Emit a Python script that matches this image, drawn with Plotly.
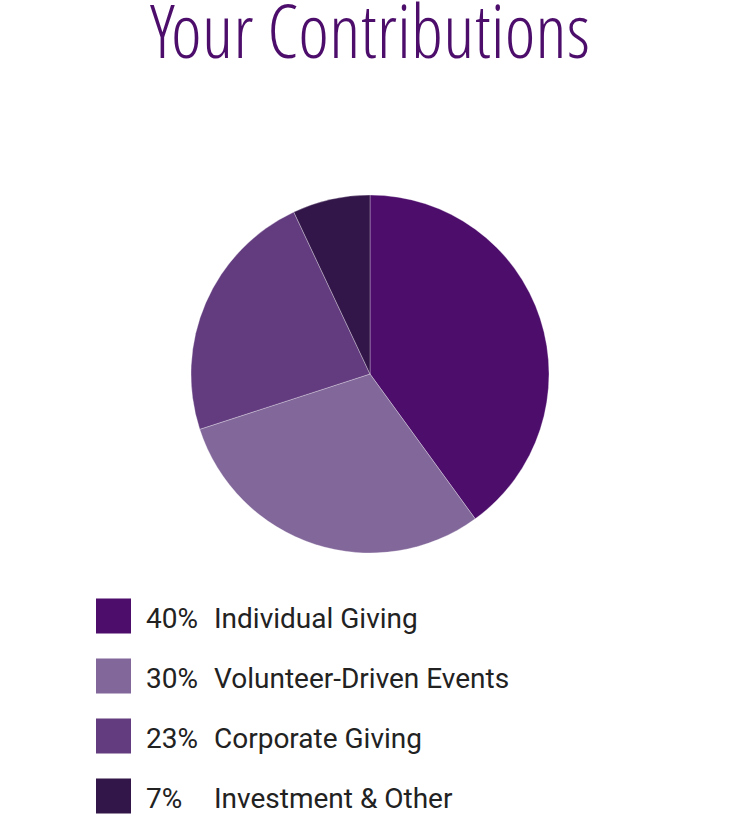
import plotly.graph_objects as go

# data
labels=['Individual Giving','Volunteer-Driven Events','Corporate Giving','Investment & Other']
pct=[40,30,23,7]
pcttext=['40%','30%','23%','7%']
colors=['#4c0d6b','#82679a','#623c7f','#331649']

W,H=740,818
rows=list(range(len(labels)))

fig=go.Figure()
fig.add_trace(go.Pie(labels=labels,
                     values=pct,
                     sort=False,
                     direction='clockwise',
                     rotation=0,
                     textinfo='none',
                     hoverinfo='label+percent',
                     marker={'colors':colors,'line':{'color':'rgba(255,255,255,0.5)','width':0.6}},
                     domain={'x':[191/W,549/W],'y':[(H-553)/H,(H-195)/H]},
                     showlegend=False))

# hand made legend: squares + two text columns
fig.add_trace(go.Scatter(x=[113.5]*len(rows),
                         y=rows,
                         mode='markers',
                         marker={'symbol':'square','size':35,'color':colors,'line':{'width':0}},
                         hoverinfo='skip',
                         showlegend=False))
for r,p,l in zip(rows,pcttext,labels):
    for xx,t in [(144,p),(211.5,l)]:
        fig.add_annotation(x=xx,y=r,xref='x',yref='y',
                           text=t,
                           showarrow=False,
                           xanchor='left',
                           yanchor='middle',
                           yshift=-2,
                           font={'family':'Roboto','size':28,'color':'#222222'})

fig.update_layout(
     width=W,
     height=H,
     margin={'l':0,'r':0,'t':0,'b':0},
     paper_bgcolor='white',
     plot_bgcolor='white',
     title={'text':'Your Contributions',
            'font':{'family':'Open Sans Condensed Light, Roboto Condensed',
                    'size':74,'color':'#4c0d6b'},
            'x':0.5,
            'xanchor':'center',
            'y':0.992,
            'yanchor':'top'},
     xaxis={'range':[0,W],'domain':[0,1],'visible':False,'fixedrange':True},
     yaxis={'range':[3.3667,-0.9333],'domain':[0,(H-560)/H],'visible':False,'fixedrange':True},
     font={'family':'Roboto','color':'#222222'},
     )
fig.write_html('out.html',
               config={'displayModeBar':False},
               post_script="document.body.style.margin='0';")
